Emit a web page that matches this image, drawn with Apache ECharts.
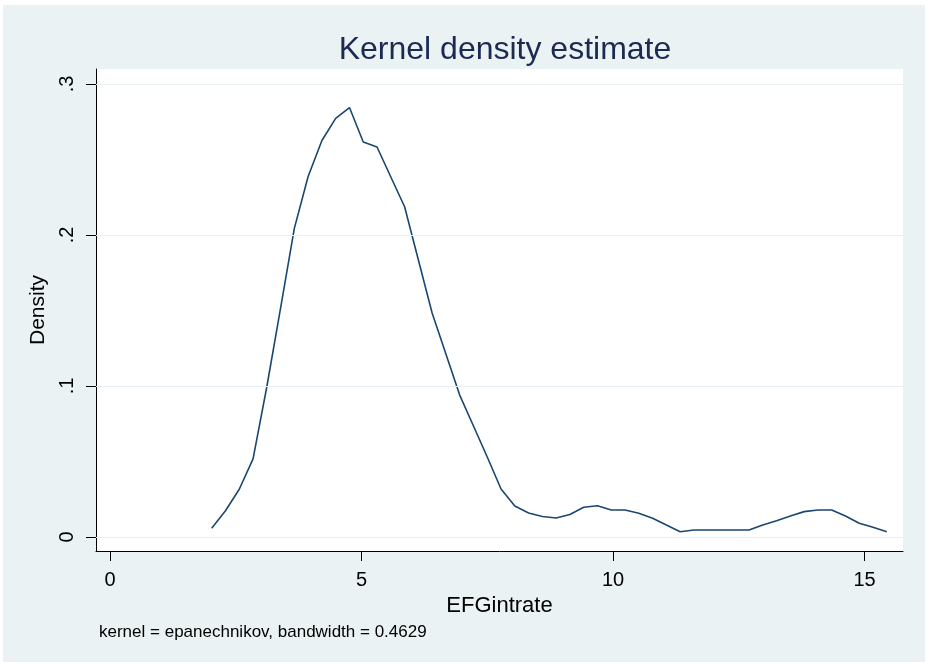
<!DOCTYPE html>
<html>
<head>
<meta charset="utf-8">
<script src="https://cdn.jsdelivr.net/npm/echarts@6/dist/echarts.min.js"></script>
<style>
html, body { margin: 0; padding: 0; background: #ffffff; }
#bg { position: absolute; left: 3px; top: 5px; width: 922px; height: 657px; background: #EAF2F3; }
#chart { position: absolute; left: 0; top: 0; width: 927px; height: 667px; }
</style>
</head>
<body>
<div id="bg"></div>
<div id="chart"></div>
<script>
// Evaluation points (EFGintrate) and estimated density
const xValues = [2.022, 2.296, 2.570, 2.844, 3.118, 3.392, 3.665, 3.939, 4.213, 4.487,
  4.761, 5.035, 5.309, 5.583, 5.857, 6.131, 6.404, 6.678, 6.952, 7.226,
  7.500, 7.774, 8.048, 8.322, 8.596, 8.870, 9.143, 9.417, 9.691, 9.965,
  10.239, 10.513, 10.787, 11.061, 11.335, 11.609, 11.882, 12.156, 12.430, 12.704,
  12.978, 13.252, 13.526, 13.800, 14.074, 14.348, 14.621, 14.895, 15.169, 15.443];
const densityValues = [0.0058, 0.0174, 0.0316, 0.0517, 0.0995, 0.1517, 0.2044, 0.2387, 0.2626, 0.2772,
  0.2844, 0.2616, 0.2583, 0.2384, 0.2187, 0.1834, 0.1483, 0.1212, 0.0940, 0.0735,
  0.0530, 0.0318, 0.0205, 0.0159, 0.0136, 0.0126, 0.0149, 0.0197, 0.0207, 0.0179,
  0.0179, 0.0157, 0.0124, 0.0080, 0.0035, 0.0046, 0.0046, 0.0046, 0.0046, 0.0046,
  0.0080, 0.0108, 0.0139, 0.0168, 0.0179, 0.0179, 0.0139, 0.0091, 0.0064, 0.0035];
const xTicks = [0, 5, 10, 15];
const yTicks = [0, 0.1, 0.2, 0.3];
const titleText = 'Kernel density estimate';
const xName = 'EFGintrate';
const yName = 'Density';
const noteText = 'kernel = epanechnikov, bandwidth = 0.4629';

const FONT = '"Liberation Sans", Arial, Helvetica, sans-serif';
const chart = echarts.init(document.getElementById('chart'), null, { renderer: 'canvas' });

const fmtY = v => {
  if (Math.abs(v) < 1e-9) return '0';
  return String(Math.round(v * 10) / 10).replace(/^0\./, '.');
};

chart.setOption({
  backgroundColor: 'transparent',
  animation: false,
  title: {
    text: titleText,
    left: 500,
    top: 29,
    textAlign: 'center',
    textStyle: { fontFamily: FONT, fontSize: 32, fontWeight: 'normal', color: '#1C2A52' }
  },
  grid: {
    left: 96, right: 24, top: 69, bottom: 116,
    show: true, backgroundColor: '#ffffff', borderWidth: 0,
    outerBoundsMode: 'none', containLabel: false
  },
  xAxis: {
    type: 'value',
    min: -0.278, max: 15.765,
    name: xName,
    nameLocation: 'middle',
    nameGap: 48,
    nameTextStyle: { fontFamily: FONT, fontSize: 22, color: '#000', verticalAlign: 'middle' },
    axisLine: { show: true, onZero: false, lineStyle: { color: '#000', width: 1 } },
    axisTick: { show: true, length: 10, customValues: xTicks, lineStyle: { color: '#000', width: 1 } },
    axisLabel: { customValues: xTicks, fontFamily: FONT, fontSize: 20, color: '#000', margin: 29, verticalAlign: 'middle',
      formatter: v => String(v) },
    splitLine: { show: false }
  },
  yAxis: {
    type: 'value',
    min: -0.00927, max: 0.30993,
    name: yName,
    nameLocation: 'middle',
    nameGap: 51,
    nameRotate: 90,
    nameTextStyle: { fontFamily: FONT, fontSize: 21, color: '#000', verticalAlign: 'middle' },
    axisLine: { show: true, onZero: false, lineStyle: { color: '#000', width: 1 } },
    axisTick: { show: true, length: 10, customValues: yTicks, lineStyle: { color: '#000', width: 1 } },
    axisLabel: { customValues: yTicks, rotate: 90, fontFamily: FONT, fontSize: 20, color: '#000', margin: 29,
      verticalAlign: 'middle', align: 'center', formatter: fmtY },
    splitLine: { show: false }
  },
  graphic: [
    {
      type: 'text', left: 99, top: 624,
      style: { text: noteText, font: '17px ' + FONT, fill: '#000' }
    }
  ],
  series: [
    {
      type: 'line',
      data: [],
      z: 1,
      silent: true,
      markLine: {
        silent: true,
        symbol: ['none', 'none'],
        label: { show: false },
        lineStyle: { color: '#E6EFF1', width: 1.2, type: 'solid' },
        data: yTicks.map(v => ({ yAxis: v }))
      }
    },
    {
      type: 'line',
      z: 3,
      data: xValues.map((x, i) => [x, densityValues[i]]),
      showSymbol: false,
      symbol: 'none',
      lineStyle: { color: '#1A476F', width: 1.6 },
      smooth: false
    }
  ]
});
</script>
</body>
</html>
